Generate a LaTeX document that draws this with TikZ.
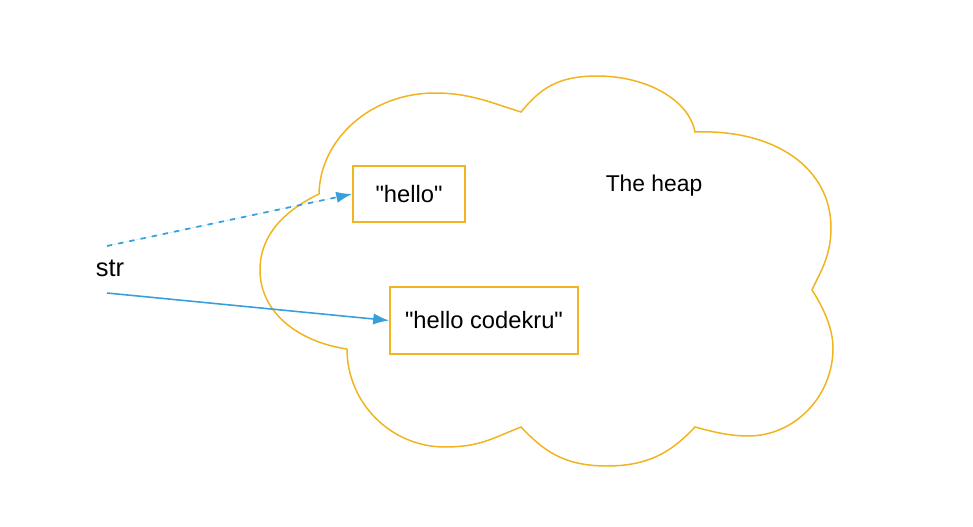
\documentclass[tikz,border=0pt]{standalone}
\usepackage{fontspec}
\setmainfont{Liberation Sans}[Ligatures=TeXOff]
\usetikzlibrary{arrows.meta}

\definecolor{nube}{RGB}{242,180,30}
\definecolor{flecha}{RGB}{55,160,220}

\begin{document}
\begin{tikzpicture}[x=0.02cm, y=-0.02cm, >={Latex[length=9pt, width=6.5pt]},
  caja/.style={draw=nube, line width=1.1pt, fill=white, inner sep=0pt,
    font=\fontsize{13.5}{16}\selectfont},
  ref/.style={->, draw=flecha, fill=flecha, line width=0.9pt}]
  \useasboundingbox (0,0) rectangle (973,527);
  % la nube (el heap), lobulo por lobulo
  \draw[nube, line width=0.85pt]
    (347,349) .. controls (299,342) and (260,313) .. (260,270)
              .. controls (260,230) and (292,207) .. (319,194)
              .. controls (320,139) and (371,93) .. (435,93)
              .. controls (470,93) and (492,103) .. (521,112)
              .. controls (540,89) and (557,76) .. (597,76)
              .. controls (647,76) and (689,100) .. (695,132)
              .. controls (775,129) and (831,168) .. (831,228)
              .. controls (831,258) and (818,276) .. (812,290)
              .. controls (823,307) and (833,328) .. (833,348)
              .. controls (833,396) and (795,436) .. (748,436)
              .. controls (728,436) and (710,431) .. (695,427)
              .. controls (674,449) and (652,466) .. (607,466)
              .. controls (562,466) and (542,449) .. (521,427)
              .. controls (493,438) and (480,447) .. (445,447)
              .. controls (391,447) and (347,403) .. (347,349);
  % textos y cajas
  \node[font=\fontsize{13}{16}\selectfont] (heap) at (654,186) {The heap};
  \node[caja, minimum width=2.24cm, minimum height=1.12cm] (hello) at (409,194)
    {"hello"};
  \node[caja, minimum width=3.76cm, minimum height=1.34cm] (codekru) at (484,320.5)
    {"hello codekru"};
  \node[font=\fontsize{14.5}{17}\selectfont] (str) at (110,268) {str};
  % referencias desde str
  \coordinate (viejo) at (107,246);
  \coordinate (nuevo) at (107,293);
  \draw[ref, line width=1pt, dash pattern=on 3pt off 3.5pt] (viejo) -- (hello.west);
  \draw[ref] (nuevo) -- (codekru.west);
\end{tikzpicture}
\end{document}
